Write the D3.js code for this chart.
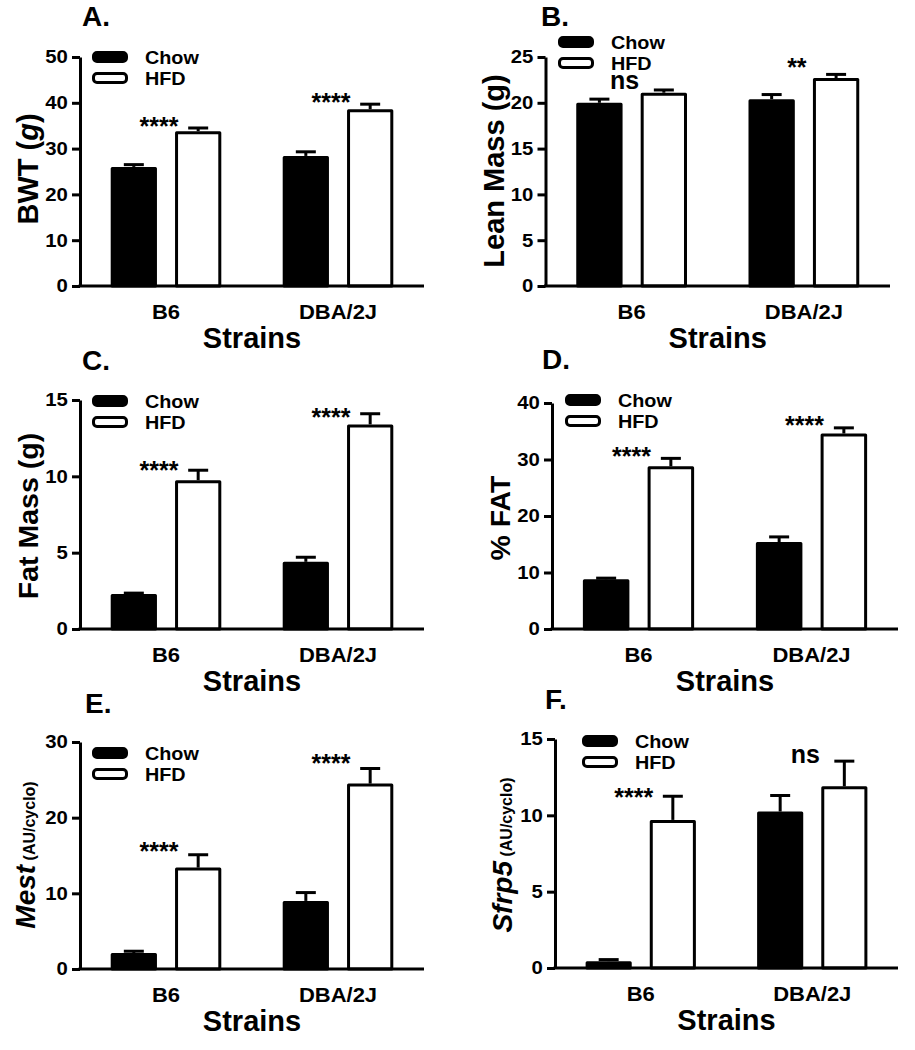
<!DOCTYPE html>
<html><head><meta charset="utf-8">
<script src="https://cdn.jsdelivr.net/npm/d3@7"></script>
<style>
body{margin:0;background:#fff}
svg{display:block;background:#fff}
text{font-family:"Liberation Sans",Arial,sans-serif;font-weight:bold;fill:#000}
</style>
</head><body>
<svg id="chart" width="915" height="1050"></svg>
<script>
// ---------------- DATA ----------------
const categories = ["B6", "DBA/2J"];
const seriesNames = ["Chow", "HFD"];
const panelLetters = ["A.", "B.", "C.", "D.", "E.", "F."];
const xAxisTitle = "Strains";

// A: body weight
const bwtChow = [26.0, 28.4], bwtChowErr = [0.5, 0.9];
const bwtHFD = [33.8, 38.6], bwtHFDErr = [0.7, 1.1];
const bwtTicks = [0, 10, 20, 30, 40, 50];
const bwtSig = ["****", "****"], bwtSigAt = [35.9, 41.2];

// B: lean mass
const leanChow = [20.0, 20.4], leanChowErr = [0.4, 0.5];
const leanHFD = [21.1, 22.7], leanHFDErr = [0.3, 0.4];
const leanTicks = [0, 5, 10, 15, 20, 25];
const leanSig = ["ns", "**"], leanSigAt = [22.2, 24.4];

// C: fat mass
const fatChow = [2.3, 4.4], fatChowErr = [0.05, 0.3];
const fatHFD = [9.75, 13.4], fatHFDErr = [0.65, 0.7];
const fatTicks = [0, 5, 10, 15];
const fatSig = ["****", "****"], fatSigAt = [10.74, 14.18];

// D: % fat
const pctChow = [8.8, 15.4], pctChowErr = [0.2, 0.9];
const pctHFD = [28.8, 34.6], pctHFDErr = [1.4, 1.0];
const pctTicks = [0, 10, 20, 30, 40];
const pctSig = ["****", "****"], pctSigAt = [31.4, 36.97];

// E: Mest
const mestChow = [2.1, 9.0], mestChowErr = [0.25, 1.1];
const mestHFD = [13.4, 24.5], mestHFDErr = [1.7, 2.0];
const mestTicks = [0, 10, 20, 30];
const mestSig = ["****", "****"], mestSigAt = [16.25, 27.85];

// F: Sfrp5
const sfrpChow = [0.45, 10.25], sfrpChowErr = [0.1, 1.05];
const sfrpHFD = [9.7, 11.9], sfrpHFDErr = [1.55, 1.65];
const sfrpTicks = [0, 5, 10, 15];
const sfrpSig = ["****", "ns"], sfrpSigAt = [11.54, 13.86];

// y-axis titles (parts: text, italic, small)
const yTitleA = [{t: "BWT ("}, {t: "g", i: true}, {t: ")"}];
const yTitleB = [{t: "Lean Mass (g)"}];
const yTitleC = [{t: "Fat Mass (g)"}];
const yTitleD = [{t: "% FAT"}];
const yTitleE = [{t: "Mest", i: true}, {t: " (AU/cyclo)", small: true}];
const yTitleF = [{t: "Sfrp5", i: true}, {t: " (AU/cyclo)", small: true}];

// ---------------- LAYOUT ----------------
const layout = [
  {x0: 80,    x1: 424, yTop: 57,  yBot: 286, leg: [92, 51],   lab: [82, 26],   ylab: [38, 169], ys: 29},
  {x0: 545.5, x1: 890, yTop: 57,  yBot: 286, leg: [558, 36],  lab: [541, 26],  ylab: [504, 171], ys: 29},
  {x0: 80,    x1: 424, yTop: 400, yBot: 629, leg: [92, 395],  lab: [82, 370],  ylab: [38, 516], ys: 28.5},
  {x0: 552,   x1: 898, yTop: 403, yBot: 629, leg: [565, 394], lab: [542, 369], ylab: [510, 518], ys: 28.5},
  {x0: 80,    x1: 424, yTop: 742, yBot: 969, leg: [92, 747],  lab: [85, 713],  ylab: [35, 855], ys: 28},
  {x0: 555,   x1: 898, yTop: 739, yBot: 968, leg: [582, 735], lab: [545, 709], ylab: [512, 855], ys: 28}
];

const panels = [
  {chow: bwtChow, chowErr: bwtChowErr, hfd: bwtHFD, hfdErr: bwtHFDErr, ticks: bwtTicks, sig: bwtSig, sigAt: bwtSigAt, ytitle: yTitleA},
  {chow: leanChow, chowErr: leanChowErr, hfd: leanHFD, hfdErr: leanHFDErr, ticks: leanTicks, sig: leanSig, sigAt: leanSigAt, ytitle: yTitleB},
  {chow: fatChow, chowErr: fatChowErr, hfd: fatHFD, hfdErr: fatHFDErr, ticks: fatTicks, sig: fatSig, sigAt: fatSigAt, ytitle: yTitleC},
  {chow: pctChow, chowErr: pctChowErr, hfd: pctHFD, hfdErr: pctHFDErr, ticks: pctTicks, sig: pctSig, sigAt: pctSigAt, ytitle: yTitleD},
  {chow: mestChow, chowErr: mestChowErr, hfd: mestHFD, hfdErr: mestHFDErr, ticks: mestTicks, sig: mestSig, sigAt: mestSigAt, ytitle: yTitleE},
  {chow: sfrpChow, chowErr: sfrpChowErr, hfd: sfrpHFD, hfdErr: sfrpHFDErr, ticks: sfrpTicks, sig: sfrpSig, sigAt: sfrpSigAt, ytitle: yTitleF}
];

// ---------------- DRAW ----------------
const svg = d3.select("#chart");
svg.append("rect").attr("width", 915).attr("height", 1050).attr("fill", "#fff");

function txt(g, x, y, s, o = {}) {
  let tr = `translate(${x},${y})`;
  if (o.rot) tr += ` rotate(${o.rot})`;
  if (o.sx) tr += ` scale(${o.sx},1)`;
  const t = g.append("text").attr("transform", tr)
    .attr("text-anchor", o.anchor || "start")
    .style("font-size", (o.size || 18) + "px");
  if (Array.isArray(s)) {
    s.forEach(p => {
      const ts = t.append("tspan").text(p.t);
      if (p.i) ts.style("font-style", "italic");
      if (p.small) ts.style("font-size", (o.smallSize || 16) + "px");
    });
  } else t.text(s);
  return t;
}

panels.forEach((p, idx) => {
  const L = layout[idx];
  const g = svg.append("g");
  const ymax = p.ticks[p.ticks.length - 1];
  const y = d3.scaleLinear().domain([0, ymax]).range([L.yBot, L.yTop]);
  const x = d3.scaleBand().domain(categories).range([L.x0, L.x1])
    .paddingInner(0.357).paddingOuter(0.1785);
  const xs = d3.scaleBand().domain(seriesNames).range([0, x.bandwidth()])
    .paddingInner(0.28125).paddingOuter(0);

  const rows = [];
  categories.forEach((c, i) => {
    rows.push({cat: c, s: "Chow", v: p.chow[i], e: p.chowErr[i]});
    rows.push({cat: c, s: "HFD", v: p.hfd[i], e: p.hfdErr[i]});
  });

  // bars
  g.selectAll("rect.bar").data(rows).join("rect").attr("class", "bar")
    .attr("x", d => x(d.cat) + xs(d.s) + 1.5)
    .attr("width", xs.bandwidth() - 3)
    .attr("y", d => y(d.v) + 1.5)
    .attr("height", d => Math.max(0, y(0) - y(d.v) - 1.5))
    .attr("fill", d => d.s === "Chow" ? "#000" : "#fff")
    .attr("stroke", "#000").attr("stroke-width", 3).attr("stroke-linejoin", "round");

  // error bars (upper only)
  const cx = d => x(d.cat) + xs(d.s) + xs.bandwidth() / 2;
  g.selectAll("line.ev").data(rows).join("line").attr("class", "ev")
    .attr("x1", cx).attr("x2", cx)
    .attr("y1", d => y(d.v)).attr("y2", d => y(d.v + d.e))
    .attr("stroke", "#000").attr("stroke-width", 3);
  g.selectAll("line.ec").data(rows).join("line").attr("class", "ec")
    .attr("x1", d => cx(d) - 10).attr("x2", d => cx(d) + 10)
    .attr("y1", d => y(d.v + d.e)).attr("y2", d => y(d.v + d.e))
    .attr("stroke", "#000").attr("stroke-width", 3);

  // y axis
  const ya = g.append("g").attr("transform", `translate(${L.x0},0)`)
    .call(d3.axisLeft(y).tickValues(p.ticks).tickSize(8).tickSizeOuter(0).tickPadding(3).tickFormat(d3.format("d")));
  ya.select(".domain").attr("stroke-width", 3).attr("stroke", "#000");
  ya.selectAll(".tick line").attr("stroke-width", 3).attr("stroke", "#000");
  ya.attr("font-family", null).attr("font-size", null);
  ya.selectAll(".tick text").style("font-size", "18.5px").attr("transform", "scale(1.1,1)");

  // x axis
  const xa = g.append("g").attr("transform", `translate(0,${L.yBot})`)
    .call(d3.axisBottom(x).tickSize(0).tickSizeOuter(0).tickPadding(19));
  xa.select(".domain").attr("stroke-width", 3).attr("stroke", "#000")
    .attr("d", `M${L.x0 - 1.5},0H${L.x1}`);
  xa.attr("font-family", null).attr("font-size", null);
  xa.selectAll(".tick text").style("font-size", "20px").attr("transform", "scale(1.1,1)");

  // axis title
  txt(g, (L.x0 + L.x1) / 2, L.yBot + 62, xAxisTitle, {size: 29, anchor: "middle"});

  // y title
  txt(g, L.ylab[0], L.ylab[1], p.ytitle, {size: L.ys, anchor: "middle", rot: -90, smallSize: 16});

  // panel letter
  txt(g, L.lab[0], L.lab[1], panelLetters[idx], {size: 28});

  // legend
  seriesNames.forEach((s, i) => {
    const lx = L.leg[0], ly = L.leg[1] + i * 21;
    g.append("rect").attr("x", lx + 1.5).attr("y", ly + 1.5).attr("width", 33).attr("height", 9)
      .attr("rx", 3.5).attr("fill", s === "Chow" ? "#000" : "#fff")
      .attr("stroke", "#000").attr("stroke-width", 3);
    txt(g, lx + 53, ly + 13, s, {size: 18, sx: 1.1});
  });

  // significance labels
  p.sig.forEach((s, i) => {
    const gx = x(categories[i]) + x.bandwidth() / 2 - 7;
    const isStar = s.indexOf("*") >= 0;
    const by = y(p.sigAt[i]) + (isStar ? 0.55 * 25 : 0.26 * 25);
    txt(g, gx, by, s, {size: 25, anchor: "middle"});
  });
});
</script>
</body></html>
